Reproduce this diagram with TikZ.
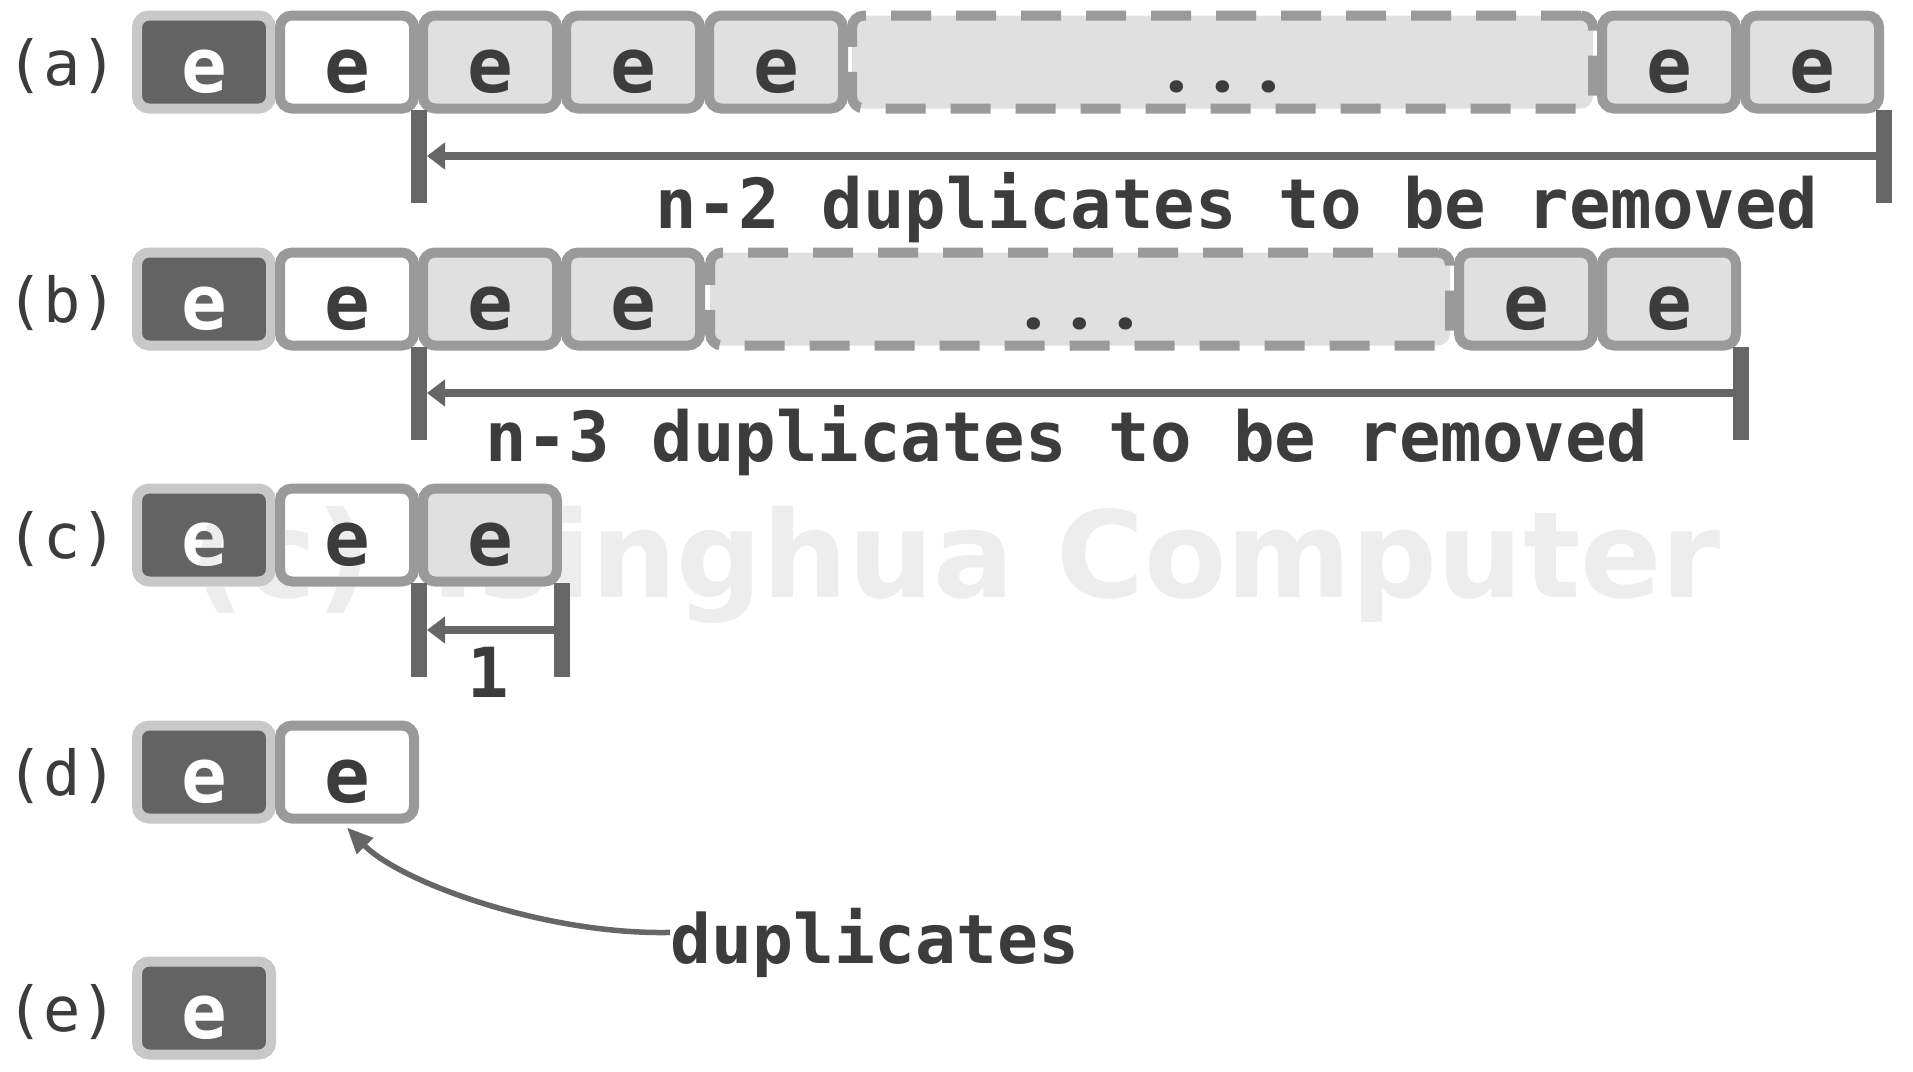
\documentclass[tikz,border=0pt]{standalone}
\usepackage{fontspec}
\newfontfamily\monofam{DejaVu Sans Mono}
\newfontfamily\wmfam{DejaVu Sans}
\newfontfamily\dotfam{Poppins}
\usetikzlibrary{arrows.meta}
\definecolor{darkfill}{HTML}{636363}
\definecolor{lightborder}{HTML}{C8C8C8}
\definecolor{midborder}{HTML}{9A9A9A}
\definecolor{lightfill}{HTML}{E0E0E0}
\definecolor{brk}{HTML}{666666}
\definecolor{txt}{HTML}{3C3C3C}
\definecolor{wmcol}{HTML}{EDEDED}
\newcommand{\tripledot}{\makebox[46pt]{.}\makebox[46pt]{.}\makebox[46pt]{.}}
\begin{document}
\begin{tikzpicture}[x=1pt,y=-1pt,
  cell/.style={rectangle, rounded corners=12pt, minimum width=134pt, minimum height=93pt,
    line width=10pt, inner sep=0pt, text height=60pt, text depth=0pt,
    font=\monofam\bfseries\fontsize{76pt}{80pt}\selectfont},
  darkcell/.style={cell, fill=darkfill, draw=lightborder, text=white},
  whitecell/.style={cell, fill=white, draw=midborder, text=txt},
  graycell/.style={cell, fill=lightfill, draw=midborder, text=txt},
  dashcell/.style={rectangle, rounded corners=12pt, minimum height=93pt,
    line width=10pt, inner sep=0pt, text height=60pt, text depth=0pt,
    fill=lightfill, draw=midborder, dash pattern=on 40pt off 25pt, text=txt,
    font=\dotfam\bfseries\fontsize{66pt}{70pt}\selectfont},
  lab/.style={anchor=base west, inner sep=0pt, text=txt,
    font=\monofam\fontsize{62pt}{66pt}\selectfont},
  note/.style={anchor=base, inner sep=0pt, text=txt,
    font=\monofam\bfseries\fontsize{69pt}{72pt}\selectfont},
  dimbar/.style={line width=16pt, draw=brk},
  dimline/.style={line width=8pt, draw=brk, -{Triangle[length=18pt,width=26pt]}},
  curvearrow/.style={line width=5.5pt, draw=brk, -{Triangle[length=26pt,width=22pt]}}
]
\useasboundingbox (0,0) rectangle (1913,1071);
\fill[white] (0,0) rectangle (1913,1071);

% ---------- row (a) ----------
\node[lab] (la) at (6,85) {(a)};
\node[dashcell, minimum width=741pt] (ad) at (1222.5,62) {\tripledot};
\node[darkcell]  (a1) at (204,62) {e};
\node[whitecell] (a2) at (347,62) {e};
\node[graycell]  (a3) at (490,62) {e};
\node[graycell]  (a4) at (633,62) {e};
\node[graycell]  (a5) at (776,62) {e};
\node[graycell]  (a6) at (1669,62) {e};
\node[graycell]  (a7) at (1812,62) {e};
\coordinate (aLt) at (419,110); \coordinate (aLb) at (419,203);
\coordinate (aRt) at (1884,110); \coordinate (aRb) at (1884,203);
\coordinate (aRm) at (1884,156); \coordinate (aLm) at (427,156);
\draw[dimbar] (aLt) -- (aLb);
\draw[dimbar] (aRt) -- (aRb);
\draw[dimline] (aRm) -- (aLm);
\node[note] (ta) at (1237,228) {n-2 duplicates to be removed};

% ---------- row (b) ----------
\node[lab] (lb) at (6,322) {(b)};
\node[dashcell, minimum width=740pt] (bd) at (1080,299) {\tripledot};
\node[darkcell]  (b1) at (204,299) {e};
\node[whitecell] (b2) at (347,299) {e};
\node[graycell]  (b3) at (490,299) {e};
\node[graycell]  (b4) at (633,299) {e};
\node[graycell]  (b5) at (1526,299) {e};
\node[graycell]  (b6) at (1669,299) {e};
\coordinate (bLt) at (419,347); \coordinate (bLb) at (419,440);
\coordinate (bRt) at (1741,347); \coordinate (bRb) at (1741,440);
\coordinate (bRm) at (1741,393); \coordinate (bLm) at (427,393);
\draw[dimbar] (bLt) -- (bLb);
\draw[dimbar] (bRt) -- (bRb);
\draw[dimline] (bRm) -- (bLm);
\node[note] (tb) at (1067,461) {n-3 duplicates to be removed};

% ---------- row (c) ----------
\node[lab] (lc) at (6,558) {(c)};
\node[darkcell]  (c1) at (204,535) {e};
\node[whitecell] (c2) at (347,535) {e};
\node[graycell]  (c3) at (490,535) {e};
\coordinate (cLt) at (419,583); \coordinate (cLb) at (419,677);
\coordinate (cRt) at (562,583); \coordinate (cRb) at (562,677);
\coordinate (cRm) at (562,630); \coordinate (cLm) at (427,630);
\draw[dimbar] (cLt) -- (cLb);
\draw[dimbar] (cRt) -- (cRb);
\draw[dimline] (cRm) -- (cLm);
\node[note] (tc) at (488,697) {1};

% ---------- watermark ----------
\begin{scope}[blend mode=darken]
\node[anchor=base west, inner sep=0pt, text=wmcol,
  font=\wmfam\bfseries\fontsize{120pt}{124pt}\selectfont] (wm) at (190,597) {(c) Tsinghua Computer};
\end{scope}

% ---------- row (d) ----------
\node[lab] (ld) at (6,795) {(d)};
\node[darkcell]  (d1) at (204,772) {e};
\node[whitecell] (d2) at (347,772) {e};
\node[note, font=\monofam\bfseries\fontsize{68pt}{72pt}\selectfont] (dup) at (875,963) {duplicates};
\draw[curvearrow] ([yshift=10pt]dup.west) .. controls (545,935) and (400,882) .. ([yshift=-4pt]d2.south);

% ---------- row (e) ----------
\node[lab] (le) at (6,1031) {(e)};
\node[darkcell]  (e1) at (204,1008) {e};
\end{tikzpicture}
\end{document}
